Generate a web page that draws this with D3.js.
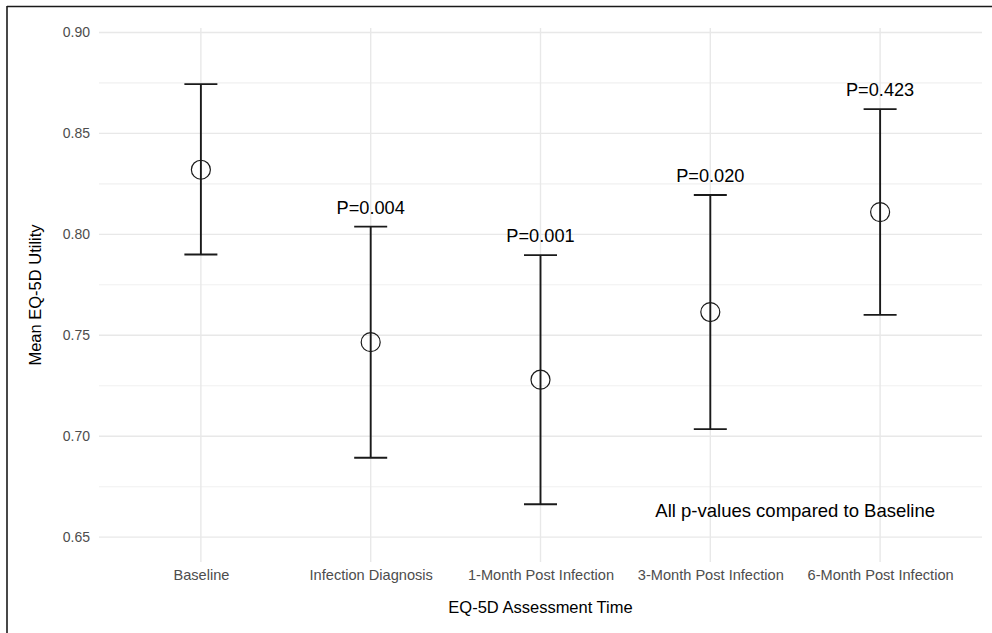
<!DOCTYPE html>
<html><head><meta charset="utf-8">
<script src="https://cdn.jsdelivr.net/npm/d3@7"></script>
<style>body{margin:0;background:#fff}svg{display:block}text{font-family:"Liberation Sans",Arial,sans-serif}</style>
</head><body>
<svg id="c" width="992" height="633"></svg>
<script>
const categories = ["Baseline","Infection Diagnosis","1-Month Post Infection","3-Month Post Infection","6-Month Post Infection"];
const means = [0.832, 0.7466, 0.728, 0.7615, 0.811];
const lower = [0.790, 0.6893, 0.6663, 0.7035, 0.7601];
const upper = [0.8744, 0.8038, 0.7897, 0.8195, 0.8620];
const pLabels = ["", "P=0.004", "P=0.001", "P=0.020", "P=0.423"];
const yTicks = [0.65, 0.70, 0.75, 0.80, 0.85, 0.90];
const yMinor = [0.675, 0.725, 0.775, 0.825, 0.875];

const svg = d3.select("#c");
const W = 992, H = 633;
const panel = {left: 99, right: 982, top: 28, bottom: 562};

const x = d3.scalePoint().domain(categories).range([panel.left, panel.right]).padding(0.6);
const y = d3.scaleLinear().domain([0.6377, 0.9022]).range([panel.bottom, panel.top]);

// frame border (top & left)
svg.append("line").attr("x1",7).attr("x2",W).attr("y1",6.5).attr("y2",6.5).attr("stroke","#1a1a1a").attr("stroke-width",1.6);
svg.append("line").attr("x1",7).attr("x2",7).attr("y1",6).attr("y2",H).attr("stroke","#1a1a1a").attr("stroke-width",1.6);

const g = svg.append("g");
// minor grid
g.selectAll(".ymin").data(yMinor).join("line")
  .attr("x1",panel.left).attr("x2",panel.right)
  .attr("y1",d=>y(d)).attr("y2",d=>y(d))
  .attr("stroke","#f0f0f0").attr("stroke-width",1.1);
// major grid
g.selectAll(".ymaj").data(yTicks).join("line")
  .attr("x1",panel.left).attr("x2",panel.right)
  .attr("y1",d=>y(d)).attr("y2",d=>y(d))
  .attr("stroke","#e8e8e8").attr("stroke-width",1.4);
g.selectAll(".xmaj").data(categories).join("line")
  .attr("x1",d=>x(d)).attr("x2",d=>x(d))
  .attr("y1",panel.top).attr("y2",panel.bottom)
  .attr("stroke","#e8e8e8").attr("stroke-width",1.4);

// y axis
const yAxis = d3.axisLeft(y).tickValues(yTicks).tickFormat(d3.format(".2f")).tickSize(0).tickPadding(9);
const ya = svg.append("g").attr("transform",`translate(${panel.left},0)`).call(yAxis);
ya.select(".domain").remove();
ya.selectAll("text").attr("font-size",14).attr("fill","#4d4d4d").attr("font-family","Liberation Sans, Arial, sans-serif");

// x axis
const xAxis = d3.axisBottom(x).tickSize(0).tickPadding(8);
const xa = svg.append("g").attr("transform",`translate(0,${panel.bottom})`).call(xAxis);
xa.select(".domain").remove();
xa.selectAll("text").attr("font-size",14.6).attr("fill","#4d4d4d").attr("font-family","Liberation Sans, Arial, sans-serif");

// axis titles
svg.append("text").attr("x",(panel.left+panel.right)/2).attr("y",613)
  .attr("text-anchor","middle").attr("font-size",16.5).attr("fill","#000").text("EQ-5D Assessment Time");
svg.append("text").attr("transform",`translate(41,${(panel.top+panel.bottom)/2}) rotate(-90)`)
  .attr("text-anchor","middle").attr("font-size",16.5).attr("fill","#000").text("Mean EQ-5D Utility");

// error bars
const data = categories.map((c,i)=>({c, m:means[i], lo:lower[i], hi:upper[i], p:pLabels[i]}));
const capHalf = 16.5;
const eb = svg.append("g").attr("stroke","#1a1a1a").attr("stroke-width",1.9);
eb.selectAll(".v").data(data).join("line")
  .attr("x1",d=>x(d.c)).attr("x2",d=>x(d.c)).attr("y1",d=>y(d.lo)).attr("y2",d=>y(d.hi));
eb.selectAll(".t").data(data).join("line")
  .attr("x1",d=>x(d.c)-capHalf).attr("x2",d=>x(d.c)+capHalf).attr("y1",d=>y(d.hi)).attr("y2",d=>y(d.hi));
eb.selectAll(".b").data(data).join("line")
  .attr("x1",d=>x(d.c)-capHalf).attr("x2",d=>x(d.c)+capHalf).attr("y1",d=>y(d.lo)).attr("y2",d=>y(d.lo));

// points
svg.append("g").selectAll("circle").data(data).join("circle")
  .attr("cx",d=>x(d.c)).attr("cy",d=>y(d.m)).attr("r",9.5)
  .attr("fill","none").attr("stroke","#1a1a1a").attr("stroke-width",1.2);

// p labels
svg.append("g").selectAll("text").data(data.filter(d=>d.p)).join("text")
  .attr("x",d=>x(d.c)).attr("y",d=>y(d.hi)-13)
  .attr("text-anchor","middle").attr("font-size",18.2).attr("fill","#000").text(d=>d.p);

// annotation
svg.append("text")
  .attr("x",(x(categories[3])+x(categories[4]))/2).attr("y",y(0.6633)+6.5)
  .attr("text-anchor","middle").attr("font-size",18.5).attr("fill","#000")
  .text("All p-values compared to Baseline");
</script>
</body></html>
